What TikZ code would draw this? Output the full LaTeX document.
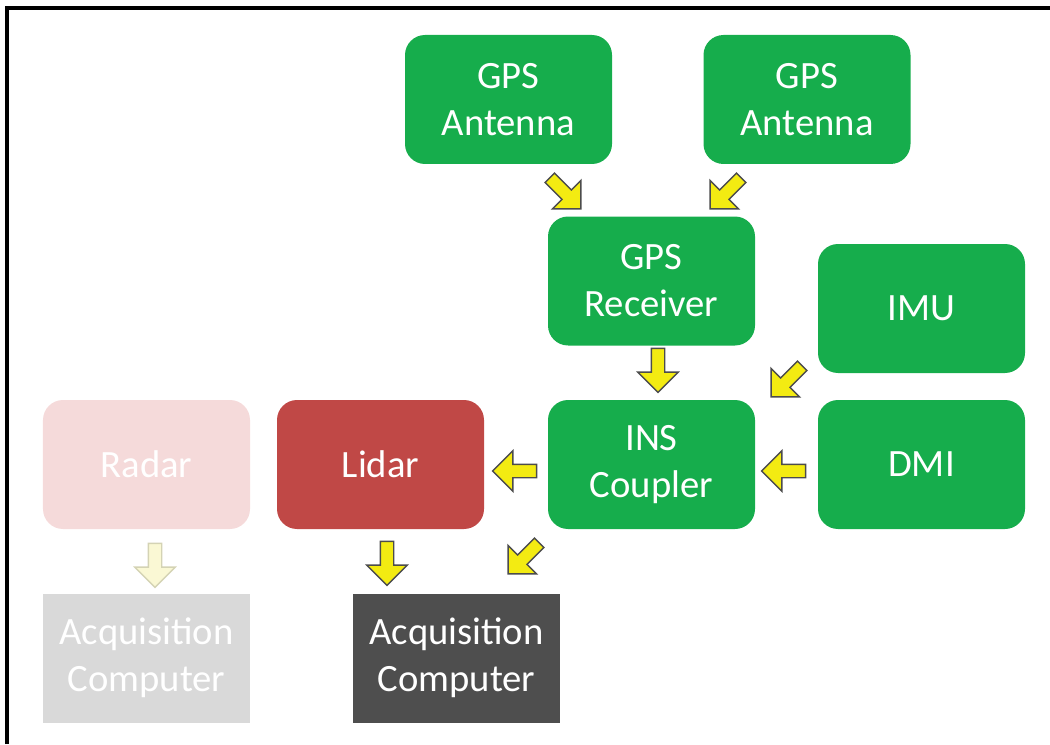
\documentclass[tikz,border=0pt]{standalone}
\usepackage{fontspec}
\setmainfont{Carlito}
\usetikzlibrary{shapes.arrows}

\definecolor{boxgreen}{RGB}{22,173,76}
\definecolor{boxred}{RGB}{192,72,70}
\definecolor{boxpink}{RGB}{245,218,218}
\definecolor{boxlight}{RGB}{217,217,217}
\definecolor{boxdark}{RGB}{78,78,78}
\definecolor{arrowyellow}{RGB}{243,235,18}
\definecolor{arrowfade}{RGB}{250,248,212}

\tikzset{
  unit/.style={rounded corners=0.2cm, minimum width=2.07cm, minimum height=1.29cm,
    inner sep=0pt, text=white, font=\fontsize{11}{13.4}\selectfont},
  sensor/.style={unit, fill=boxgreen},
  pc/.style={unit, rounded corners=0pt},
  flow/.style={single arrow, draw=black!70, line width=0.4pt, fill=arrowyellow,
    inner sep=0.06cm, minimum height=0.44cm,
    single arrow head extend=0.135cm, single arrow tip angle=90},
  fadedflow/.style={flow, draw=arrowfade!85!black, fill=arrowfade}
}

\begin{document}
\begin{tikzpicture}[every text node part/.style={align=center}]
      \useasboundingbox (0,0) rectangle (10.5,7.44);
      \draw [line width=0.9pt] (0.07,0) -- (0.07,7.36) -- (10.5,7.36);

      \node[sensor] (AntOne)  at (5.085,6.445) {GPS\\Antenna};
      \node[sensor] (AntTwo)  at (8.07,6.445)  {GPS\\Antenna};
      \node[sensor] (Recv)    at (6.515,4.63)  {GPS\\Receiver};
      \node[sensor] (IMU)     at (9.215,4.355) {IMU};
      \node[sensor] (INS)     at (6.515,2.795) {INS\\Coupler};
      \node[sensor] (DMI)     at (9.215,2.795) {DMI};

      \node[unit, fill=boxred]   (Lidar) at (3.805,2.795) {Lidar};
      \node[unit, fill=boxpink]  (Radar) at (1.465,2.795) {Radar};

      \node[pc, fill=boxlight] (AcqRadar) at (1.465,0.86) {Acquisition\\Computer};
      \node[pc, fill=boxdark]  (AcqLidar) at (4.565,0.86) {Acquisition\\Computer};

      \node[flow, rotate=-45] (AntOneRecv) at (5.63,5.53) {};
      \node[flow, rotate=225] (AntTwoRecv) at (7.28,5.53) {};
      \node[flow, rotate=270] (RecvINS)    at (6.58,3.77) {};
      \node[flow, rotate=225] (IMUINS)     at (7.89,3.65) {};
      \node[flow, rotate=180] (DMIINS)     at (7.87,2.73) {};
      \node[flow, rotate=180] (INSLidar)   at (5.18,2.73) {};
      \node[flow, rotate=270] (LidarAcq)   at (3.87,1.84) {};
      \node[flow, rotate=225] (INSAcq)     at (5.26,1.88) {};

      \node[fadedflow, rotate=270] (RadarAcq) at (1.55,1.82) {};
    \end{tikzpicture}
\end{document}
